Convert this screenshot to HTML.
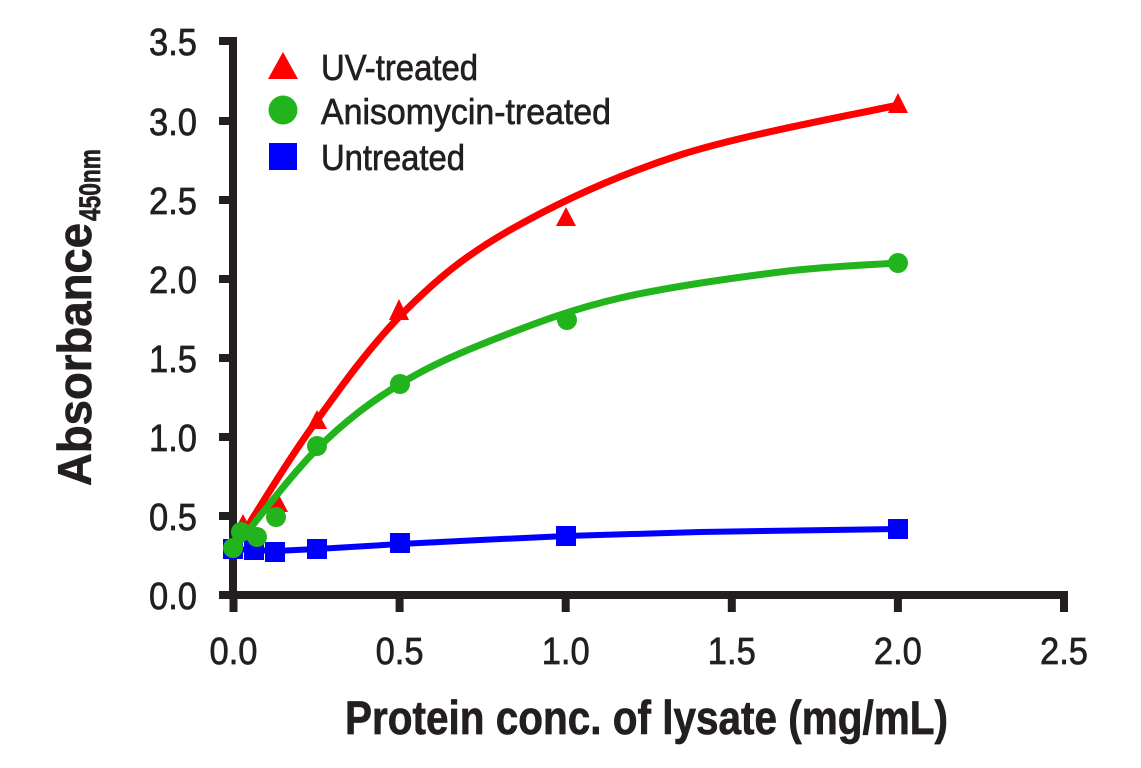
<!DOCTYPE html>
<html>
<head>
<meta charset="utf-8">
<style>
  html,body{margin:0;padding:0;background:#fff;}
  svg{display:block;}
  text{font-family:"Liberation Sans",sans-serif;fill:#231f20;}
  .lbl{stroke:#231f20;stroke-width:0.7;}
</style>
</head>
<body>
<svg width="1141" height="768" viewBox="0 0 1141 768" xmlns="http://www.w3.org/2000/svg">
  <rect width="1141" height="768" fill="#fff"/>

  <!-- Axes -->
  <g fill="#231f20">
    <rect x="229" y="37" width="8" height="562"/>
    <rect x="219" y="591" width="849" height="8"/>
    <rect x="219" y="37" width="14" height="8"/>
    <rect x="219" y="117" width="14" height="8"/>
    <rect x="219" y="196" width="14" height="8"/>
    <rect x="219" y="275" width="14" height="8"/>
    <rect x="219" y="354" width="14" height="8"/>
    <rect x="219" y="433" width="14" height="8"/>
    <rect x="219" y="512" width="14" height="8"/>
    <rect x="229.5" y="595" width="8" height="17"/>
    <rect x="395.6" y="595" width="8" height="17"/>
    <rect x="561.7" y="595" width="8" height="17"/>
    <rect x="727.8" y="595" width="8" height="17"/>
    <rect x="893.9" y="595" width="8" height="17"/>
    <rect x="1060" y="595" width="8" height="17"/>
  </g>

  <!-- Y tick labels -->
  <g font-size="38" text-anchor="end" class="lbl">
    <text class="lbl" x="197" y="55" textLength="48" lengthAdjust="spacingAndGlyphs">3.5</text>
    <text class="lbl" x="197" y="135" textLength="48" lengthAdjust="spacingAndGlyphs">3.0</text>
    <text class="lbl" x="197" y="214" textLength="48" lengthAdjust="spacingAndGlyphs">2.5</text>
    <text class="lbl" x="197" y="293" textLength="48" lengthAdjust="spacingAndGlyphs">2.0</text>
    <text class="lbl" x="197" y="372" textLength="48" lengthAdjust="spacingAndGlyphs">1.5</text>
    <text class="lbl" x="197" y="451" textLength="48" lengthAdjust="spacingAndGlyphs">1.0</text>
    <text class="lbl" x="197" y="530" textLength="48" lengthAdjust="spacingAndGlyphs">0.5</text>
    <text class="lbl" x="197" y="609" textLength="48" lengthAdjust="spacingAndGlyphs">0.0</text>
  </g>

  <!-- X tick labels -->
  <g font-size="38" text-anchor="middle">
    <text class="lbl" x="233.5" y="664" textLength="48" lengthAdjust="spacingAndGlyphs">0.0</text>
    <text class="lbl" x="399.6" y="664" textLength="48" lengthAdjust="spacingAndGlyphs">0.5</text>
    <text class="lbl" x="565.7" y="664" textLength="48" lengthAdjust="spacingAndGlyphs">1.0</text>
    <text class="lbl" x="731.8" y="664" textLength="48" lengthAdjust="spacingAndGlyphs">1.5</text>
    <text class="lbl" x="897.9" y="664" textLength="48" lengthAdjust="spacingAndGlyphs">2.0</text>
    <text class="lbl" x="1064" y="664" textLength="48" lengthAdjust="spacingAndGlyphs">2.5</text>
  </g>

  <!-- Axis titles -->
  <text class="lbl" x="345" y="734" font-size="47" font-weight="bold" textLength="603" lengthAdjust="spacingAndGlyphs">Protein conc. of lysate (mg/mL)</text>
  <g transform="translate(91,486) rotate(-90)">
    <text class="lbl" x="0" y="0" font-size="47" font-weight="bold" textLength="263" lengthAdjust="spacingAndGlyphs">Absorbance</text>
    <text class="lbl" x="265" y="9" font-size="30" font-weight="bold" textLength="72" lengthAdjust="spacingAndGlyphs">450nm</text>
  </g>

  <!-- Legend -->
  <polygon points="283,52 268,79 298,79" fill="#ff0000"/>
  <circle cx="283" cy="110" r="14.5" fill="#22b41c"/>
  <rect x="269" y="143" width="28" height="27" fill="#0000ff"/>
  <g font-size="36">
    <text class="lbl" x="321" y="80" textLength="157" lengthAdjust="spacingAndGlyphs">UV-treated</text>
    <text class="lbl" x="321" y="124" textLength="290" lengthAdjust="spacingAndGlyphs">Anisomycin-treated</text>
    <text class="lbl" x="321" y="170" textLength="144" lengthAdjust="spacingAndGlyphs">Untreated</text>
  </g>

  <!-- Red series (UV) -->
  <path fill="none" stroke="#ff0000" stroke-width="7" stroke-linecap="round"
    d="M233,550 C245.8,530 281.7,469.5 310,430 C338.3,390.5 369.7,346.3 403,313 C436.3,279.7 463.8,256.3 510,230 C556.2,203.7 615.3,175.8 680,155 C744.7,134.2 861.7,113.3 898,105"/>
  <g fill="#ff0000">
    <polygon points="233,537 223,556 243,556"/>
    <polygon points="243,514 233,533 253,533"/>
    <polygon points="278,493 268,512 288,512"/>
    <polygon points="317,410 307,429 327,429"/>
    <polygon points="399,299 389,320 409,320"/>
    <polygon points="566,207 556,226 576,226"/>
    <polygon points="898,93 888,113 908,113"/>
  </g>

  <!-- Blue series (Untreated) -->
  <polyline fill="none" stroke="#0000ff" stroke-width="6" stroke-linejoin="round" stroke-linecap="round"
    points="233,549 254,550 275,551 317,549 400,544 480,540 566,536 700,532 898,529"/>
  <g fill="#0000ff">
    <rect x="223" y="539" width="20" height="20"/>
    <rect x="244" y="540" width="20" height="20"/>
    <rect x="265" y="542" width="20" height="20"/>
    <rect x="307" y="539" width="20" height="20"/>
    <rect x="390" y="533" width="20" height="20"/>
    <rect x="556" y="526" width="20" height="20"/>
    <rect x="888" y="519" width="20" height="20"/>
  </g>

  <!-- Green series (Anisomycin) -->
  <path fill="none" stroke="#22b41c" stroke-width="7" stroke-linecap="round"
    d="M233,550 C247,533.2 289.2,476.7 317,449 C344.8,421.3 369.5,402.7 400,384 C430.5,365.3 463.3,351.3 500,337 C536.7,322.7 573.3,308.8 620,298 C666.7,287.2 733.7,277.8 780,272 C826.3,266.2 878.3,264.5 898,263"/>
  <g fill="#22b41c">
    <circle cx="233" cy="548" r="10"/>
    <circle cx="241" cy="532" r="10"/>
    <circle cx="257" cy="537" r="10"/>
    <circle cx="276" cy="517" r="10"/>
    <circle cx="317" cy="446" r="10"/>
    <circle cx="400" cy="384" r="10"/>
    <circle cx="567" cy="320" r="10"/>
    <circle cx="898" cy="263" r="10"/>
  </g>
</svg>
</body>
</html>
